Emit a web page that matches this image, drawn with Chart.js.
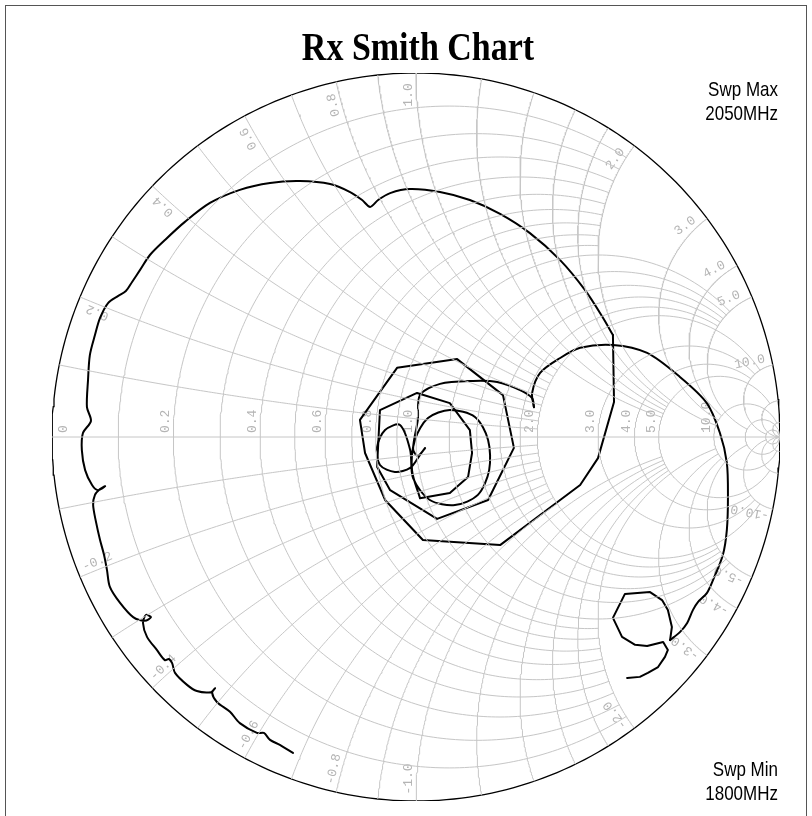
<!DOCTYPE html>
<html><head><meta charset="utf-8">
<script src="https://cdn.jsdelivr.net/npm/chart.js@4.4.1/dist/chart.umd.min.js"></script>
<style>html,body{margin:0;padding:0;background:#fff;overflow:hidden}</style>
</head><body>
<canvas id="c" width="812" height="816"></canvas>
<script>
// ---------- text ----------
const chartTitle = 'Rx Smith Chart';
const sweepMaxText = ['Swp Max', '2050MHz'];
const sweepMinText = ['Swp Min', '1800MHz'];

// ---------- grid values (normalized impedance) ----------
const resistanceGrid = [0.1,0.2,0.3,0.4,0.5,0.6,0.7,0.8,0.9,1.0,1.2,1.4,1.6,1.8,2.0,3.0,4.0,5.0,10.0,20.0,50.0];
const reactanceGrid  = [0.1,0.2,0.3,0.4,0.5,0.6,0.7,0.8,0.9,1.0,1.2,1.4,1.6,1.8,2.0,3.0,4.0,5.0,10.0,20.0,50.0];
const resistanceLabels = ['0','0.2','0.4','0.6','0.8','1.0','2.0','3.0','4.0','5.0','10.0'];
const reactanceLabels  = ['0.2','0.4','0.6','0.8','1.0','2.0','3.0','4.0','5.0','10.0'];

// ---------- measured trace (reflection coefficient, re / im) ----------
const legA_re = [-0.338,-0.374,-0.401,-0.418,-0.437,-0.484,-0.511,-0.547,-0.560,-0.552,-0.563,-0.602,-0.629,-0.662,-0.670,-0.679,-0.690,-0.712,-0.739,-0.750,-0.742,-0.728,-0.745,-0.777,-0.813,-0.841,-0.849,-0.857,-0.868,-0.879,-0.887,-0.882,-0.868,-0.854,-0.874,-0.890,-0.909,-0.918,-0.915,-0.893,-0.904,-0.901,-0.896,-0.882,-0.868,-0.846,-0.819,-0.797,-0.780,-0.758,-0.731,-0.690,-0.635,-0.566,-0.484,-0.401,-0.319,-0.236,-0.181,-0.148,-0.126,-0.104,-0.071,-0.016,0.066,0.148,0.231,0.313,0.396,0.464,0.514,0.541];
const legA_im = [-0.868,-0.846,-0.832,-0.813,-0.813,-0.786,-0.755,-0.728,-0.703,-0.690,-0.701,-0.698,-0.681,-0.648,-0.621,-0.610,-0.613,-0.585,-0.549,-0.511,-0.489,-0.495,-0.505,-0.495,-0.456,-0.412,-0.365,-0.324,-0.283,-0.234,-0.187,-0.159,-0.143,-0.135,-0.146,-0.132,-0.091,-0.036,0.011,0.044,0.082,0.157,0.225,0.280,0.327,0.368,0.387,0.401,0.426,0.459,0.500,0.541,0.591,0.643,0.679,0.698,0.703,0.695,0.673,0.651,0.632,0.651,0.670,0.681,0.673,0.651,0.613,0.560,0.486,0.404,0.327,0.280];
const legB_re = [0.541,0.544,0.500,0.451,0.396,0.231,0.019,-0.085,-0.140,-0.154,-0.052,0.113,0.239,0.269,0.198,0.058,-0.071,-0.107,-0.099,0.003,0.093,0.148,0.154,0.143,0.093,0.011];
const legB_im = [0.280,0.096,-0.058,-0.132,-0.173,-0.297,-0.283,-0.173,-0.044,0.047,0.190,0.214,0.115,-0.030,-0.173,-0.225,-0.146,-0.082,0.074,0.121,0.093,0.019,-0.044,-0.110,-0.154,-0.168];
const legC_re = [0.011,-0.011,-0.003,0.033,0.093,0.162,0.198,0.201,0.170,0.107,0.038,-0.008,-0.016,-0.044,-0.085,-0.107,-0.099,-0.058,-0.016,0.011,0.025,0.005,-0.008,0.005,0.011,0.066,0.157,0.223,0.286,0.319,0.324];
const legC_im = [-0.168,-0.091,-0.008,0.052,0.074,0.055,-0.008,-0.091,-0.159,-0.187,-0.173,-0.113,-0.036,0.033,0.019,-0.027,-0.077,-0.096,-0.085,-0.049,-0.030,-0.052,-0.033,0.047,0.115,0.146,0.154,0.151,0.129,0.107,0.082];
const legD_re = [0.324,0.319,0.341,0.396,0.451,0.541,0.635,0.725,0.799,0.835,0.854,0.857,0.854,0.843,0.816,0.799,0.775,0.761,0.745,0.725,0.698];
const legD_im = [0.082,0.121,0.176,0.217,0.245,0.253,0.231,0.165,0.093,0.011,-0.071,-0.165,-0.255,-0.324,-0.393,-0.429,-0.453,-0.475,-0.511,-0.536,-0.558];
const legE_re = [0.698,0.703,0.692,0.676,0.643,0.574,0.541,0.566,0.602,0.635,0.679,0.692,0.684,0.665,0.637,0.615,0.580];
const legE_im = [-0.558,-0.522,-0.475,-0.448,-0.426,-0.431,-0.497,-0.549,-0.571,-0.574,-0.563,-0.585,-0.604,-0.632,-0.648,-0.659,-0.662];

// ---------- helpers ----------
function gamma(r, x) {
  const D = (r + 1) * (r + 1) + x * x;
  return { x: (r * r + x * x - 1) / D, y: (2 * x) / D };
}
function zip(re, im) {
  const n = Math.min(re.length, im.length), out = [];
  for (let i = 0; i < n; i++) out.push({ x: re[i], y: im[i] });
  return out;
}
const HALF = Math.PI / 2 - 1e-6;
// zone limits: lines of one decade-group stop at the next group's outer value;
// the group-boundary lines (1, 2, 5, 10) reach one zone further.
function lim(v) {
  if (v < 1.0) return 2;
  if (v === 1.0) return 5;
  if (v < 2.0) return 5;
  if (v === 2.0) return 10;
  if (v < 5) return 10;
  if (v === 5) return 20;
  if (v === 10) return 50;
  return Infinity;
}
function rCircle(r, X) {
  const a = isFinite(X) ? Math.atan(X) : HALF, pts = [];
  for (let i = 0; i <= 300; i++) { const u = -a + 2 * a * i / 300; pts.push(gamma(r, Math.tan(u))); }
  return pts;
}
function xArc(x, R) {
  const a = isFinite(R) ? Math.atan(R) : HALF, pts = [];
  for (let i = 0; i <= 200; i++) { const u = a * i / 200; pts.push(gamma(Math.tan(u), x)); }
  return pts;
}

const GRID = '#c6c6c6';
const datasets = [];
function gridSet(data, color, width) {
  datasets.push({ data, showLine: true, pointRadius: 0, borderColor: color, borderWidth: width, tension: 0, fill: false });
}
resistanceGrid.forEach(r => gridSet(rCircle(r, lim(r)), GRID, 1));
reactanceGrid.forEach(x => { gridSet(xArc(x, lim(x)), GRID, 1); gridSet(xArc(-x, lim(x)), GRID, 1); });
gridSet([{ x: -1, y: 0 }, { x: 1, y: 0 }], GRID, 1);
const outer = rCircle(0, Infinity); outer.push({ x: 1, y: 0 }); outer.unshift({ x: 1, y: 0 });
gridSet(outer, '#000', 1.3);

function traceSet(re, im, tension) {
  datasets.push({ data: zip(re, im), showLine: true, pointRadius: 0, borderColor: '#000', borderWidth: 2, tension, fill: false, borderJoinStyle: 'round', borderCapStyle: 'round' });
}
traceSet(legA_re, legA_im, 0.3);
traceSet(legB_re, legB_im, 0);
traceSet(legC_re, legC_im, 0.3);
traceSet(legD_re, legD_im, 0.3);
traceSet(legE_re, legE_im, 0);

function stretchedText(ctx, txt, x, y, font, align, sy) {
  ctx.save(); ctx.translate(x, y); ctx.scale(1, sy);
  ctx.font = font; ctx.textAlign = align; ctx.textBaseline = 'alphabetic';
  ctx.fillText(txt, 0, 0); ctx.restore();
}

const decor = {
  id: 'decor',
  beforeDraw(chart) {
    const ctx = chart.ctx;
    ctx.save(); ctx.fillStyle = '#fff'; ctx.fillRect(0, 0, chart.width, chart.height);
    ctx.strokeStyle = '#555'; ctx.lineWidth = 1; ctx.strokeRect(5.5, 5.5, 801, 830); ctx.restore();
  },
  beforeDatasetsDraw(chart) {
    const ctx = chart.ctx, sx = chart.scales.x, sy = chart.scales.y;
    const cx = sx.getPixelForValue(0), cy = sy.getPixelForValue(0);
    const R = sx.getPixelForValue(1) - cx;
    ctx.save();
    ctx.fillStyle = '#b4b4b4'; ctx.font = '13px "Liberation Mono", monospace';
    resistanceLabels.forEach(t => {
      const r = parseFloat(t), g = gamma(r, 0);
      let px = sx.getPixelForValue(g.x);
      px = r === 0 ? px + 18 : px - 1;
      ctx.save(); ctx.translate(px, cy - 4); ctx.rotate(-Math.PI / 2);
      ctx.textAlign = 'left'; ctx.textBaseline = 'bottom'; ctx.fillText(t, 0, 0); ctx.restore();
    });
    reactanceLabels.forEach(t => {
      [1, -1].forEach(s => {
        const xv = s * parseFloat(t), g = gamma(0, xv);
        const k = 1 - 22 / R;
        const px = sx.getPixelForValue(g.x * k), py = sy.getPixelForValue(g.y * k);
        const ang = s > 0 ? Math.atan2(-g.y, g.x) : Math.atan2(g.y, -g.x);
        ctx.save(); ctx.translate(px, py); ctx.rotate(ang);
        ctx.textAlign = 'center'; ctx.textBaseline = 'bottom';
        ctx.fillText(s > 0 ? t : '-' + t, 0, -1); ctx.restore();
      });
    });
    ctx.restore();
  },
  afterDraw(chart) {
    const ctx = chart.ctx;
    ctx.save(); ctx.fillStyle = '#000';
    stretchedText(ctx, chartTitle, 418, 60, 'bold 34px "Liberation Serif", serif', 'center', 1.2);
    stretchedText(ctx, sweepMaxText[0], 778, 96, '17px "Liberation Sans", Arial, sans-serif', 'right', 1.2);
    stretchedText(ctx, sweepMaxText[1], 778, 120, '17px "Liberation Sans", Arial, sans-serif', 'right', 1.2);
    stretchedText(ctx, sweepMinText[0], 778, 776, '17px "Liberation Sans", Arial, sans-serif', 'right', 1.2);
    stretchedText(ctx, sweepMinText[1], 778, 800, '17px "Liberation Sans", Arial, sans-serif', 'right', 1.2);
    ctx.restore();
  }
};

new Chart(document.getElementById('c'), {
  type: 'scatter',
  data: { datasets },
  options: {
    responsive: false, animation: false, devicePixelRatio: 1,
    layout: { padding: { left: 52, right: 32, top: 73, bottom: 15 } },
    scales: {
      x: { type: 'linear', min: -1, max: 1, display: false },
      y: { type: 'linear', min: -1, max: 1, display: false }
    },
    plugins: { legend: { display: false }, tooltip: { enabled: false }, title: { display: false } },
    elements: { line: { capBezierPoints: false } }
  },
  plugins: [decor]
});
</script>
</body></html>
